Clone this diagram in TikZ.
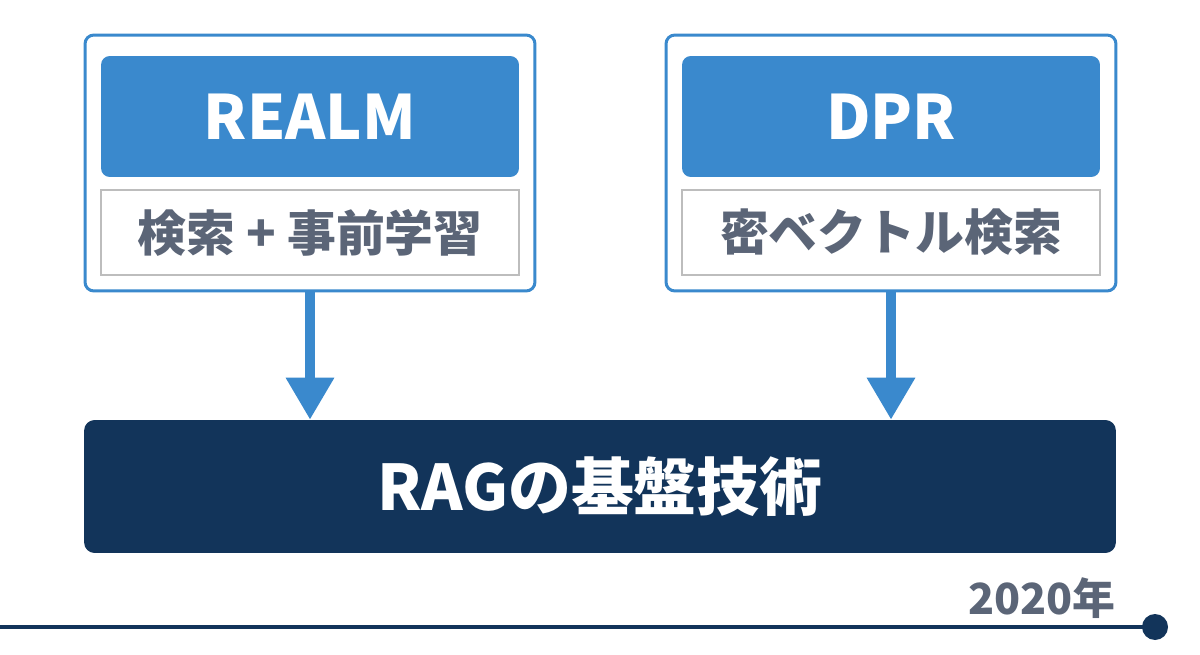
\documentclass[tikz,border=0pt]{standalone}
\usepackage{fontspec}
\setmainfont{Noto Sans CJK JP}
\usetikzlibrary{arrows.meta}
\definecolor{boxblue}{HTML}{3A89CD}
\definecolor{navy}{HTML}{12345A}
\definecolor{slate}{HTML}{5B6577}
\definecolor{rulegray}{HTML}{BDBDBD}
\newcommand{\headFont}{\fontsize{34.8}{38}\selectfont\bfseries}
\newcommand{\ragFont}{\fontsize{35.8}{40}\selectfont\bfseries}
\newcommand{\subFont}{\fontsize{27.8}{32}\selectfont\bfseries}
\newcommand{\yearFont}{\fontsize{24.4}{28}\selectfont\bfseries}
\tikzset{
  outerbox/.style={draw=boxblue, line width=1.7pt, fill=white, rounded corners=5pt,
    minimum width=9cm, minimum height=5.12cm},
  headbox/.style={fill=boxblue, rounded corners=5pt, text=white, font=\headFont,
    minimum width=8.36cm, minimum height=2.42cm},
  subbox/.style={draw=rulegray, line width=0.8pt, fill=white, text=slate, font=\subFont,
    minimum width=8.36cm, minimum height=1.7cm},
  flow/.style={draw=boxblue, line width=5.5pt,
    -{Triangle[width=0.92cm, length=0.84cm]}},
}

\begin{document}
\begin{tikzpicture}[x=0.02cm, y=-0.02cm]
  \useasboundingbox[fill=white] (0,0) rectangle (1200,655);
  % source methods
  \node (realm) [outerbox] at (310,163) {};
  \node (realmhead) [headbox] at (310,116.5) {REALM};
  \node (realmsub) [subbox] at (310,232.5) {検索 + 事前学習};
  \node (dpr) [outerbox] at (891,163) {};
  \node (dprhead) [headbox] at (891,116.5) {DPR};
  \node (dprsub) [subbox] at (891,232.5) {密ベクトル検索};
  % foundation
  \node (rag) [fill=navy, rounded corners=6pt, text=white, font=\ragFont,
    minimum width=20.64cm, minimum height=2.66cm] at (600,486.5) {RAGの基盤技術};
  \draw [flow] (realm.south) -- (realm.south |- rag.north);
  \draw [flow] (dpr.south) -- (dpr.south |- rag.north);
  % timeline
  \node (dot) [circle, fill=navy, minimum size=0.52cm, inner sep=0pt] at (1155,627) {};
  \coordinate (tstart) at (0,627);
  \draw [navy, line width=2.3pt] (tstart) -- (dot.center);
  \node (year) [text=slate, font=\yearFont] at (1042,598) {2020年};
\end{tikzpicture}
\end{document}
